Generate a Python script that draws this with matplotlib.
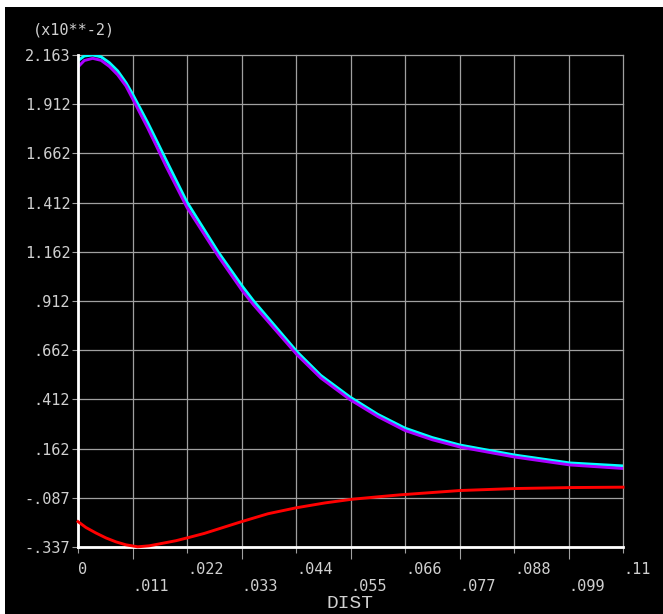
import numpy as np
import matplotlib
matplotlib.use('Agg')
import matplotlib.pyplot as plt
from matplotlib.patches import Rectangle

# valeurs (unites x10**-2)
x_cyan = [0, .00127, .00297, .00464, .00632, .00801, .00969, .01104, .01237, .01407, .01574,
          .01776, .0220, .02832, .03316, .03538, .0442, .0490, .0549, .0605, .0660, .0715,
          .0771, .0882, .0993, .11]
y_cyan = [2.134, 2.158, 2.163, 2.154, 2.124, 2.082, 2.022, 1.963, 1.900, 1.819, 1.734,
          1.630, 1.415, 1.161, 0.988, 0.915, 0.655, 0.535, 0.425, 0.337, 0.267, 0.219,
          0.181, 0.130, 0.090, 0.075]

x_violet = [0, .00127, .00297, .00464, .00632, .00801, .00969, .01104, .01237, .01407, .01574,
            .01776, .0220, .02832, .03316, .03538, .0442, .0490, .0549, .0605, .0660, .0715,
            .0771, .0882, .0993, .11]
y_violet = [2.102, 2.135, 2.146, 2.136, 2.105, 2.062, 2.005, 1.940, 1.875, 1.792, 1.705,
            1.598, 1.388, 1.140, 0.965, 0.895, 0.640, 0.522, 0.412, 0.326, 0.255, 0.208,
            0.171, 0.120, 0.080, 0.062]

x_rouge = [0, .00161, .00363, .00565, .00767, .00969, .01205, .01439, .01709, .01978, .02246,
           .02549, .0329, .03835, .0440, .04985, .0551, .06055, .0650, .0771, .0882, .0993, .11]
y_rouge = [-0.208, -0.238, -0.266, -0.291, -0.311, -0.326, -0.336, -0.331, -0.318, -0.305, -0.288,
           -0.268, -0.209, -0.168, -0.138, -0.113, -0.095, -0.082, -0.072, -0.050, -0.040, -0.035, -0.033]

yticks = [2.163 - 0.25 * k for k in range(11)]
ylabels = ['2.163', '1.912', '1.662', '1.412', '1.162', '.912', '.662', '.412', '.162', '-.087', '-.337']
xticks_haut = [0, .022, .044, .066, .088, .11]
xlabels_haut = ['0', '.022', '.044', '.066', '.088', '.11']
xticks_bas = [.011, .033, .055, .077, .099]
xlabels_bas = ['.011', '.033', '.055', '.077', '.099']

gris = '#a0a0a0'
texte = '#d0d0d0'
police = 'DejaVu Sans Mono'
taille = 11

fig = plt.figure(figsize=(6.63, 6.14), dpi=100, facecolor='white')
fig.patches.append(Rectangle((5 / 663, 0), 1, 1 - 7 / 614, transform=fig.transFigure,
                             facecolor='black', edgecolor='none', zorder=-10))
ax = fig.add_axes([78 / 663, 1 - 547 / 614, 545 / 663, 492 / 614])
ax.set_facecolor('black')

ax.plot(x_cyan, y_cyan, color='#00ffff', lw=2.1, zorder=3, solid_joinstyle='round')
ax.plot(x_violet, y_violet, color='#aa00ff', lw=2.1, zorder=4, solid_joinstyle='round')
ax.plot(x_rouge, y_rouge, color='#ff0000', lw=2.1, zorder=7, clip_on=False, solid_joinstyle='round')

ax.set_xlim(0, 0.11)
ax.set_ylim(-0.337, 2.163)

ax.set_yticks(yticks, labels=ylabels)
ax.set_xticks(xticks_haut, labels=xlabels_haut)
ax.set_xticks(xticks_bas, labels=xlabels_bas, minor=True)

ax.grid(True, which='both', color=gris, lw=0.9, zorder=1)
for ln in ax.get_xgridlines() + ax.get_ygridlines():
    ln.set_clip_on(False)

ax.tick_params(axis='y', length=4, width=0.8, color=gris, pad=1.5, labelcolor=texte,
               labelsize=taille, labelfontfamily=police)
ax.tick_params(axis='x', which='major', length=4.3, width=0.8, color=gris, pad=6.5,
               labelcolor=texte, labelsize=taille, labelfontfamily=police)
ax.tick_params(axis='x', which='minor', length=8.6, width=0.8, color=gris, pad=14.5,
               labelcolor=texte, labelsize=taille, labelfontfamily=police)
for lab in ax.get_xticklabels() + ax.get_xticklabels(minor=True):
    lab.set_ha('left')

for s in ['top', 'right']:
    ax.spines[s].set_visible(False)
for s in ['left', 'bottom']:
    ax.spines[s].set_color('white')
    ax.spines[s].set_linewidth(2.0)
    ax.spines[s].set_zorder(6)

fig.text(33 / 663, 1 - 30 / 614, '(x10**-2)', color=texte, fontsize=taille,
         family=police, ha='left', va='center')
fig.text(350 / 663, 1 - 604 / 614, 'DIST', color=texte, fontsize=14,
         family='Liberation Mono', ha='center', va='center')

fig.savefig('out.png', dpi=100, facecolor=fig.get_facecolor())
